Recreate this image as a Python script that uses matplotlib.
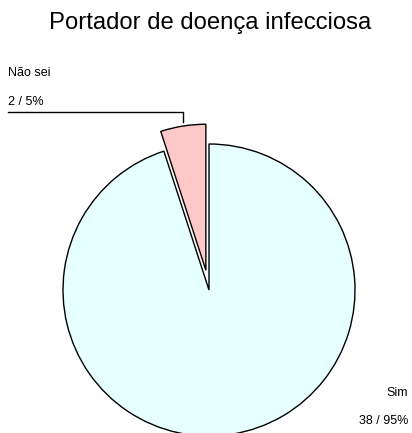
import matplotlib
matplotlib.use("Agg")
import matplotlib.pyplot as plt

plt.rcParams['font.family'] = ['Liberation Sans', 'DejaVu Sans']

# dados
categorias = ["Sim", "Não sei"]
valores = [38, 2]
percentuais = ["95%", "5%"]
cores = ["#E6FFFF", "#FFC8C8"]

W, H = 412, 433
fig = plt.figure(figsize=(W / 100, H / 100), dpi=100)
ax = fig.add_axes([0, 0, 1, 1])
ax.set_xlim(0, W)
ax.set_ylim(0, H)
ax.set_aspect("equal")
ax.axis("off")

# pizza em coordenadas de pixel (y para cima)
cx, cy, r = 209, H - 290, 146
wedges, _ = ax.pie(valores, colors=cores, startangle=90, counterclock=False,
                   center=(cx, cy), radius=r, explode=[0, 20],
                   wedgeprops=dict(edgecolor="black", linewidth=1.0))
ax.set_xlim(0, W)
ax.set_ylim(0, H)

ax.text(210.5, H - 29, "Portador de doença infecciosa", ha="center", va="baseline",
        fontsize=17.2)

# rótulos
ax.text(8, H - 73, categorias[1], fontsize=9, va="center", ha="left")
ax.text(8, H - 102, f"{valores[1]} / {percentuais[1]}", fontsize=9, va="center", ha="left")
ax.plot([8, 183, 183], [H - 112, H - 112, H - 122], color="black", lw=1)

ax.text(408, H - 393, categorias[0], fontsize=9, va="center", ha="right")
ax.text(408, H - 421, f"{valores[0]} / {percentuais[0]}", fontsize=9, va="center", ha="right")

fig.savefig("out.png", dpi=100)
